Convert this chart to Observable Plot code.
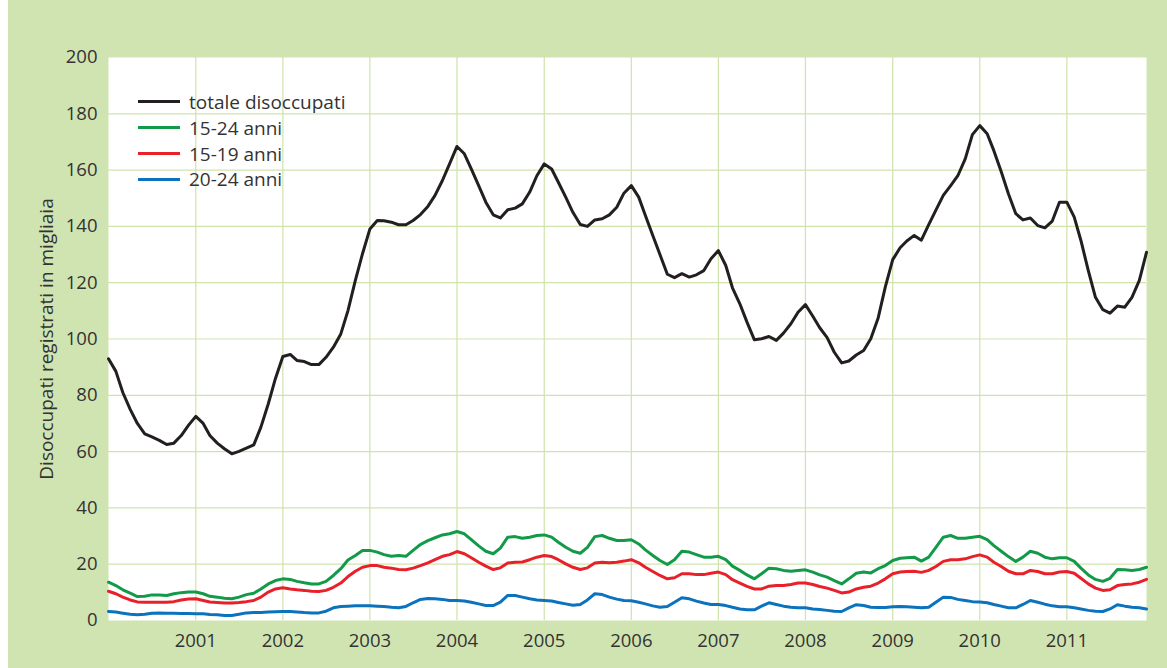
<!DOCTYPE html>
<html><head><meta charset="utf-8">
<script src="https://cdn.jsdelivr.net/npm/d3@7"></script>
<script src="https://cdn.jsdelivr.net/npm/@observablehq/plot@0.6"></script>
<style>
html,body{margin:0;padding:0;background:#fff;}
#wrap{position:absolute;left:8px;top:0;width:1159px;height:668px;background:#d0e4b1;overflow:hidden;font-family:"Open Sans",sans-serif;color:#333;}
#legend{position:absolute;left:130px;top:89px;font-size:19px;color:#333;}
.row{display:flex;align-items:center;height:25.8px;}
.sw{display:inline-block;width:42px;height:3.2px;margin-right:9px;}
</style>
</head><body>
<div id="wrap"><div id="chart"></div><div id="legend"></div></div>
<script>
const seriesNames = ["totale disoccupati", "15-24 anni", "15-19 anni", "20-24 anni"];
const seriesColors = ["#231f20", "#129a48", "#e8202a", "#0b72bd"];
const yTicks = [0, 20, 40, 60, 80, 100, 120, 140, 160, 180, 200];
const yearLabels = [2001, 2002, 2003, 2004, 2005, 2006, 2007, 2008, 2009, 2010, 2011];
const yLabel = "Disoccupati registrati in migliaia";
const firstMonth = "2000-01";
const lastMonth = "2011-12";

// monthly values, Jan 2000 – Dec 2011 (thousands)
const totale = [
 93, 88.5, 81, 75, 70, 66.3, 65.2, 64, 62.5, 63, 65.7, 69.3,
 72.5, 70, 65.7, 63, 61, 59.2, 60.1, 61.2, 62.4, 68.7, 77, 86,
 93.8, 94.5, 92.4, 92, 90.9, 90.9, 93.5, 97.1, 101.8, 110.1, 120.8, 130.3,
 139.1, 142.1, 142, 141.5, 140.6, 140.6, 142.1, 144.2, 147.1, 151, 156.3, 162.2,
 168.4, 165.8, 160.4, 154.5, 148.6, 144.1, 143, 145.9, 146.5, 148, 152.2, 158,
 162.2, 160.4, 155.7, 150.4, 145, 140.7, 140, 142.3, 142.7, 144.1, 146.8, 151.8,
 154.5, 150.4, 143.9, 136.8, 130, 123, 121.8, 123.2, 122, 122.8, 124.3, 128.5,
 131.4, 126.1, 118.2, 112.5, 106, 99.7, 100.1, 100.9, 99.5, 102.1, 105.4, 109.5,
 112.2, 108.1, 104, 100.5, 95.3, 91.5, 92.2, 94.3, 95.9, 100.1, 107.5, 118.5,
 128.2, 132.4, 134.8, 136.8, 135.1, 140.6, 145.8, 151, 154.5, 158, 164, 172.6,
 175.8, 172.9, 166.9, 159.4, 151.6, 144.5, 142.3, 143, 140.3, 139.5, 141.9, 148.6,
 148.6, 143.3, 135, 124.3, 114.8, 110.4, 109.2, 111.7, 111.3, 114.8, 120.8, 130.8
];
const anni15_24 = [
 13.6, 12.4, 10.9, 9.7, 8.5, 8.6, 9.1, 9.1, 8.9, 9.5, 9.9, 10.1,
 10.1, 9.5, 8.6, 8.3, 7.9, 7.7, 8.3, 9.2, 9.7, 11.2, 13, 14.2,
 14.8, 14.6, 13.9, 13.4, 13, 13, 13.9, 16, 18.4, 21.5, 23.1, 24.9,
 24.9, 24.3, 23.4, 22.8, 23.1, 22.8, 24.9, 27, 28.4, 29.4, 30.4, 30.8,
 31.6, 30.8, 28.7, 26.5, 24.6, 23.7, 25.7, 29.6, 29.8, 29.2, 29.6, 30.2,
 30.4, 29.6, 27.8, 26, 24.6, 23.9, 26, 29.8, 30.2, 29.2, 28.4, 28.4,
 28.7, 27.2, 25.1, 23.1, 21.3, 19.9, 21.6, 24.6, 24.3, 23.4, 22.5, 22.5,
 22.8, 21.6, 19.3, 17.8, 16.2, 14.8, 16.6, 18.6, 18.4, 17.8, 17.5, 17.8,
 18, 17.2, 16.2, 15.4, 14.2, 13, 14.8, 16.8, 17.2, 16.9, 18.4, 19.5,
 21.3, 22.1, 22.3, 22.5, 21.1, 22.5, 26, 29.6, 30.2, 29.2, 29.2, 29.6,
 29.9, 28.7, 26.6, 24.6, 22.7, 21, 22.5, 24.6, 23.9, 22.5, 21.9, 22.3,
 22.3, 21, 18.6, 16.2, 14.6, 13.9, 15, 18.1, 18, 17.8, 18.1, 18.9
];
const anni15_19 = [
 10.4, 9.5, 8.3, 7.3, 6.6, 6.5, 6.5, 6.5, 6.5, 6.7, 7.3, 7.6,
 7.7, 7.1, 6.6, 6.4, 6.2, 6.2, 6.4, 6.7, 7.1, 8.3, 10.1, 11.2,
 11.6, 11.2, 10.9, 10.7, 10.4, 10.3, 10.7, 11.8, 13.3, 15.6, 17.5, 18.9,
 19.5, 19.5, 18.9, 18.6, 18.1, 18, 18.6, 19.5, 20.5, 21.6, 22.8, 23.4,
 24.5, 23.7, 22.3, 20.7, 19.3, 18.1, 18.7, 20.4, 20.7, 20.8, 21.6, 22.5,
 23.1, 22.7, 21.6, 20.1, 18.9, 18.1, 18.7, 20.4, 20.7, 20.5, 20.7, 21.1,
 21.6, 20.5, 18.9, 17.4, 16, 14.8, 15.2, 16.6, 16.6, 16.3, 16.3, 16.8,
 17.2, 16.3, 14.5, 13.3, 12.1, 11.2, 11.2, 12.2, 12.4, 12.4, 12.8, 13.3,
 13.3, 12.8, 12.1, 11.5, 10.7, 9.8, 10.1, 11.2, 11.8, 12.2, 13.3, 14.8,
 16.6, 17.2, 17.4, 17.5, 17.1, 17.8, 19.2, 21, 21.6, 21.6, 21.9, 22.7,
 23.3, 22.5, 20.7, 19.2, 17.5, 16.6, 16.6, 17.8, 17.4, 16.6, 16.6, 17.2,
 17.4, 16.8, 15, 13, 11.5, 10.7, 10.9, 12.4, 12.8, 13, 13.6, 14.6
];
const anni20_24 = [
 3.2, 3, 2.6, 2.2, 2, 2.2, 2.6, 2.7, 2.6, 2.6, 2.5, 2.5,
 2.4, 2.4, 2.1, 2, 1.8, 1.8, 2.2, 2.7, 2.8, 2.8, 3, 3.1,
 3.2, 3.2, 3, 2.8, 2.7, 2.7, 3.3, 4.5, 5, 5.1, 5.2, 5.2,
 5.2, 5.1, 5, 4.7, 4.5, 5, 6.3, 7.5, 7.8, 7.7, 7.5, 7.1,
 7.1, 6.9, 6.5, 5.9, 5.3, 5.3, 6.5, 8.9, 8.9, 8.3, 7.7, 7.3,
 7.1, 6.9, 6.4, 5.9, 5.4, 5.7, 7.3, 9.5, 9.2, 8.3, 7.6, 7.1,
 7, 6.5, 5.9, 5.2, 4.7, 5, 6.5, 8.1, 7.7, 6.9, 6.2, 5.7,
 5.7, 5.3, 4.7, 4.1, 3.8, 3.8, 5.1, 6.3, 5.7, 5.1, 4.7, 4.5,
 4.5, 4.1, 3.9, 3.6, 3.3, 3.2, 4.5, 5.6, 5.3, 4.7, 4.6, 4.6,
 4.9, 5, 4.9, 4.7, 4.5, 4.7, 6.5, 8.3, 8.2, 7.5, 7.1, 6.7,
 6.6, 6.3, 5.7, 5.1, 4.5, 4.5, 5.7, 7.1, 6.5, 5.8, 5.2, 4.9,
 4.9, 4.5, 4.1, 3.6, 3.3, 3.2, 4.1, 5.6, 5.1, 4.7, 4.5, 4.1
];

const parseM = d3.utcParse("%Y-%m");
const months = d3.utcMonth.range(parseM(firstMonth), d3.utcMonth.offset(parseM(lastMonth), 1));
const seriesValues = [totale, anni15_24, anni15_19, anni20_24];
const rows = (vals, name) => vals.map((v, i) => ({date: months[i], value: v, serie: name}));
const yearTicks = yearLabels.map(y => new Date(Date.UTC(y, 0, 1)));
const grid = "#cfe3ab";

const lineMarks = [3, 2, 1, 0].map(k =>
  Plot.line(rows(seriesValues[k], seriesNames[k]), {x: "date", y: "value", stroke: seriesColors[k], strokeWidth: 3, strokeLinejoin: "round"})
);

const chart = Plot.plot({
  width: 1159, height: 668,
  marginLeft: 100, marginRight: 21, marginTop: 57, marginBottom: 48,
  style: {background: "transparent", fontFamily: "'Open Sans', sans-serif", fontSize: "18.5px", color: "#333", overflow: "visible"},
  x: {type: "utc", domain: [months[0], months[months.length - 1]]},
  y: {domain: [0, 200]},
  marks: [
    Plot.frame({fill: "#fff", stroke: "none"}),
    Plot.ruleY(yTicks.filter(t => t > 0 && t < 200), {stroke: grid, strokeWidth: 1.2}),
    Plot.ruleX(yearTicks, {stroke: grid, strokeWidth: 1.2}),
    ...lineMarks,
    Plot.axisY({ticks: yTicks, tickSize: 0, tickPadding: 11, label: null, fill: "#333"}),
    Plot.axisX({ticks: yearTicks, tickSize: 0, tickPadding: 13, tickFormat: d3.utcFormat("%Y"), label: null, fill: "#333"}),
    Plot.text([yLabel], {frameAnchor: "left", textAnchor: "middle", lineAnchor: "middle", rotate: -90, dx: -62, fontSize: 19, fill: "#333"})
  ]
});
document.getElementById("chart").appendChild(chart);

const leg = document.getElementById("legend");
seriesNames.forEach((n, k) => {
  const r = document.createElement("div");
  r.className = "row";
  const s = document.createElement("span");
  s.className = "sw";
  s.style.background = seriesColors[k];
  const t = document.createElement("span");
  t.textContent = n;
  r.appendChild(s); r.appendChild(t);
  leg.appendChild(r);
});
</script>
</body></html>
